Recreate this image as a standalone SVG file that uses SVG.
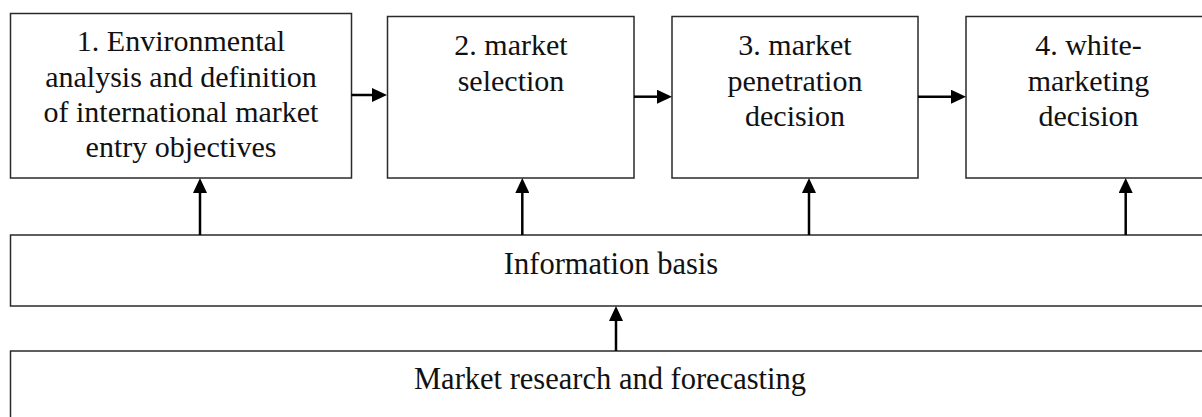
<svg xmlns="http://www.w3.org/2000/svg" width="1202" height="417" viewBox="0 0 1202 417">
  <style>
    .box { fill: #ffffff; stroke: #2a2a2a; stroke-width: 1.5; }
    .lbl { font-family: "Liberation Serif", "Times New Roman", serif; font-size: 30px; fill: #111111; text-anchor: middle; }
    .lbl-lg { font-size: 30.5px; }
    .conn { fill: none; stroke: #000000; stroke-width: 2.5; }
  </style>
  <defs>
    <marker id="arrow" viewBox="0 0 15 14" refX="0" refY="7" markerWidth="15" markerHeight="14" markerUnits="userSpaceOnUse" orient="auto">
      <path d="M0,0 L15,7 L0,14 z" fill="#000000"/>
    </marker>
  </defs>
  <rect width="1202" height="417" fill="#ffffff"/>

  <g id="step1">
    <rect class="box" x="10.5" y="13.5" width="341" height="164.5"/>
    <text class="lbl" x="181" y="51">1. Environmental</text>
    <text class="lbl" x="181" y="86.5">analysis and definition</text>
    <text class="lbl" x="181" y="122">of international market</text>
    <text class="lbl" x="181" y="157">entry objectives</text>
  </g>

  <g id="step2">
    <rect class="box" x="387.5" y="16.5" width="246.5" height="161.5"/>
    <text class="lbl" x="511" y="55">2. market</text>
    <text class="lbl" x="511" y="90.7">selection</text>
  </g>

  <g id="step3">
    <rect class="box" x="672" y="16.5" width="246" height="161.5"/>
    <text class="lbl" x="795" y="55">3. market</text>
    <text class="lbl" x="795" y="90.7">penetration</text>
    <text class="lbl" x="795" y="126">decision</text>
  </g>

  <g id="step4">
    <rect class="box" x="966" y="16.5" width="250" height="161.5"/>
    <text class="lbl" x="1088.5" y="55">4. white-</text>
    <text class="lbl" x="1088.5" y="90.7">marketing</text>
    <text class="lbl" x="1088.5" y="126">decision</text>
  </g>

  <g id="info-basis">
    <rect class="box" x="10.5" y="235" width="1205" height="71"/>
    <text class="lbl lbl-lg" x="611" y="274.3">Information basis</text>
  </g>

  <g id="market-research">
    <rect class="box" x="10.5" y="351" width="1205" height="90"/>
    <text class="lbl lbl-lg" x="610" y="389">Market research and forecasting</text>
  </g>

  <g id="connectors">
    <!-- flow between the steps -->
    <path class="conn" d="M351.3,95 H372" marker-end="url(#arrow)"/>
    <path class="conn" d="M634,96.7 H657" marker-end="url(#arrow)"/>
    <path class="conn" d="M918,96.7 H951" marker-end="url(#arrow)"/>
    <!-- information basis feeding each step -->
    <path class="conn" d="M200,235 V193" marker-end="url(#arrow)"/>
    <path class="conn" d="M522.3,235 V193" marker-end="url(#arrow)"/>
    <path class="conn" d="M809,235 V193" marker-end="url(#arrow)"/>
    <path class="conn" d="M1125.7,235 V193" marker-end="url(#arrow)"/>
    <!-- research feeding the information basis -->
    <path class="conn" d="M616,351 V321" marker-end="url(#arrow)"/>
  </g>
</svg>
